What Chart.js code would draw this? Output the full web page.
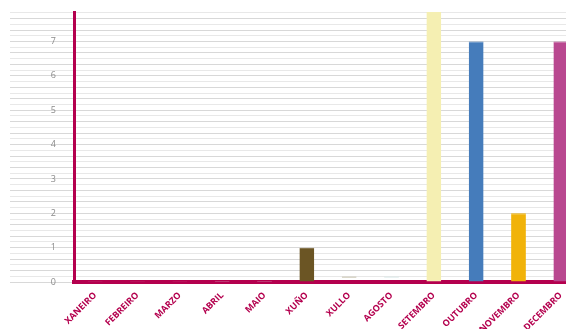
<!DOCTYPE html>
<html>
<head>
<meta charset="utf-8">
<script src="https://cdn.jsdelivr.net/npm/chart.js@4"></script>
<style>
html,body{margin:0;padding:0;background:#fff;overflow:hidden;}
#clip{width:566px;height:329px;overflow:hidden;position:relative;}
#wrap{width:582px;height:329px;position:relative;}
</style>
</head>
<body>
<div id="clip"><div id="wrap"><canvas id="c"></canvas></div></div>
<script>
const categories = ['XANEIRO','FEBREIRO','MARZO','ABRIL','MAIO','XUÑO','XULLO','AGOSTO','SETEMBRO','OUTUBRO','NOVEMBRO','DECEMBRO'];
const values = [0.02, 0.02, 0.02, 0.03, 0.03, 1, 0.16, 0.16, 8, 7, 2, 7];
const barColors = ['#f0e6ea','#f0e6ea','#f0e6ea','#d9e6e6','#d9e6e6','#6b5524','rgba(0,0,0,0)','rgba(0,0,0,0)','#f5efb2','#457cbb','#f1b30a','#b94890'];
const barBorders = ['#f0e6ea','#f0e6ea','#f0e6ea','#d9e6e6','#d9e6e6','#6b5524','#b8b196','#d3e6e6','#f5efb2','#457cbb','#f1b30a','#b94890'];
const yMax = 7.86;
const gridStepsPerUnit = 6;

const crimson = '#b4004e';
new Chart(document.getElementById('c'), {
  type: 'bar',
  data: {
    labels: categories,
    datasets: [{
      data: values,
      backgroundColor: barColors,
      borderColor: barBorders,
      borderWidth: {top: 1, left: 0, right: 0, bottom: 0},
      borderSkipped: false,
      barPercentage: 0.35,
      categoryPercentage: 1
    }]
  },
  options: {
    responsive: true,
    maintainAspectRatio: false,
    animation: false,
    layout: {padding: {left: 0, right: 0, top: 12, bottom: 0}},
    plugins: {legend: {display: false}, tooltip: {enabled: false}},
    scales: {
      x: {
        grid: {display: true, color: 'rgba(0,0,0,0)', drawTicks: false},
        border: {display: true, color: crimson, width: 4},
        ticks: {
          color: crimson,
          font: {family: 'Open Sans', weight: 'bold', size: 9},
          minRotation: 45, maxRotation: 45, padding: 8, autoSkip: false
        },
        afterFit: s => { s.height = 47; }
      },
      y: {
        min: 0, max: yMax,
        afterBuildTicks: s => {
          const t = [];
          for (let k = 0; k / gridStepsPerUnit <= yMax; k++) t.push({value: k / gridStepsPerUnit});
          s.ticks = t;
        },
        grid: {
          color: ctx => (ctx.index % 2 === 0 ? '#d8d8d8' : '#e8e8e8'),
          lineWidth: 1,
          tickLength: 64,
          drawTicks: true
        },
        border: {display: true, color: crimson, width: 3},
        ticks: {
          color: '#8a8a8a',
          font: {family: 'Open Sans', size: 9},
          padding: -46,
          autoSkip: false,
          callback: v => (Math.abs(v - Math.round(v)) < 1e-6 ? String(Math.round(v)) : '')
        },
        afterFit: s => { s.width = 74; }
      }
    }
  }
});
</script>
</body>
</html>
